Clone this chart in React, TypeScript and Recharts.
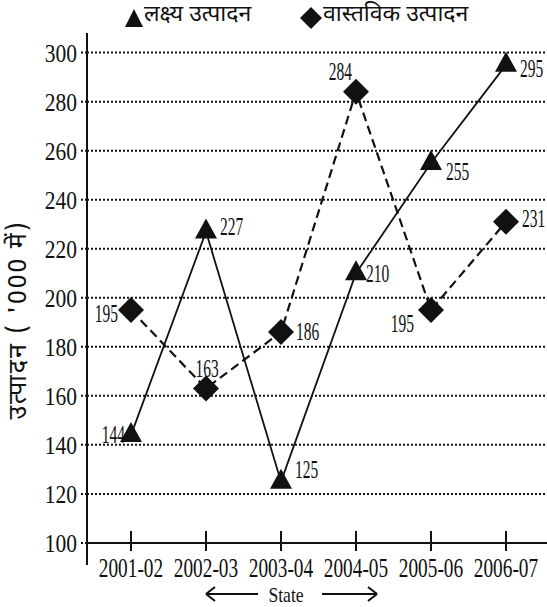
import { LineChart, Line, XAxis, YAxis, CartesianGrid, ReferenceLine, LabelList } from 'recharts';

// years on the x axis
const years = ['2001-02', '2002-03', '2003-04', '2004-05', '2005-06', '2006-07'];
// लक्ष्य उत्पादन (target)
const targetValues = [144, 227, 125, 210, 255, 295];
// वास्तविक उत्पादन (actual)
const actualValues = [195, 163, 186, 284, 195, 231];
const yTicks = [100, 120, 140, 160, 180, 200, 220, 240, 260, 280, 300];

// label placement per point: dx, dy, anchor
const targetLabelPos: [number, number, string][] = [
  [-6, 8, 'end'], [14, 3, 'start'], [14, -4, 'start'], [10, 9, 'start'], [15, 17, 'start'], [14, 12, 'start'],
];
const actualLabelPos: [number, number, string][] = [
  [-13, 12, 'end'], [1, -11, 'middle'], [15, 8, 'start'], [-4, -12, 'end'], [-17, 22, 'end'], [16, 5, 'start'],
];

const data = years.map((year, i) => ({
  year,
  target: targetValues[i],
  actual: actualValues[i],
}));

const hindi = '"Noto Sans Devanagari", "Lohit Devanagari", "Noto Sans", sans-serif';

// condensed serif text (scaled horizontally)
const SText = ({ x, y, anchor = 'start', size, sx, children }: any) => (
  <g transform={`translate(${x},${y}) scale(${sx},1)`}>
    <text x={0} y={0} textAnchor={anchor} fontFamily="Liberation Serif" fontSize={size} fill="#111">
      {children}
    </text>
  </g>
);

const Triangle = ({ cx, cy }: any) => (
  <polygon points={`${cx},${cy - 13} ${cx - 11},${cy + 7} ${cx + 11},${cy + 7}`} fill="#111" />
);

const Diamond = ({ cx, cy }: any) => (
  <polygon points={`${cx},${cy - 13} ${cx + 13},${cy} ${cx},${cy + 13} ${cx - 13},${cy}`} fill="#111" />
);

const makeLabel = (pos: [number, number, string][]) => (props: any) => {
  const { x, y, value, index } = props;
  const [dx, dy, anchor] = pos[index];
  return <SText x={x + dx} y={y + dy} anchor={anchor} size={25} sx={0.62}>{value}</SText>;
};

const XTick = ({ x, y, payload }: any) => (
  <g>
    <line x1={x} x2={x} y1={y - 34} y2={y - 14} stroke="#111" strokeWidth={2} />
    <SText x={x} y={y + 12} anchor="middle" size={28} sx={0.69}>{payload.value}</SText>
  </g>
);

const YTick = ({ x, y, payload }: any) => (
  <SText x={x - 2} y={y + 9} anchor="end" size={25} sx={0.86}>{payload.value}</SText>
);

const StateLabel = () => (
  <g>
    <path d="M206,594 L258,594 M206,594 L215,587 M206,594 L215,601" stroke="#111" strokeWidth={2} fill="none" />
    <SText x={286} y={602} anchor="middle" size={22} sx={0.8}>State</SText>
    <path d="M322,594 L377,594 M377,594 L368,587 M377,594 L368,601" stroke="#111" strokeWidth={2} fill="none" />
  </g>
);

const YLabel = () => (
  <text
    transform="translate(26,320) rotate(-90)"
    textAnchor="middle"
    style={{ fontFamily: hindi, fontSize: 25, letterSpacing: 2 }}
    fill="#111"
  >
    उत्पादन ( '000 में)
  </text>
);

const legendText = { position: 'absolute' as const, top: 0, fontFamily: hindi, fontSize: 23, color: '#111', whiteSpace: 'nowrap' as const };

export default function App() {
  return (
    <div style={{ position: 'relative', width: 547, height: 607, background: '#fff' }}>
      <style>{'body{margin:0}'}</style>
      <svg width={547} height={34} style={{ position: 'absolute', top: 0, left: 0, zIndex: 2 }}>
        <polygon points="134,9 125,27 143,27" fill="#111" />
        <polygon points="311,7 322,18 311,29 300,18" fill="#111" />
      </svg>
      <div style={{ ...legendText, left: 144, zIndex: 2 }}>लक्ष्य उत्पादन</div>
      <div style={{ ...legendText, left: 323, zIndex: 2 }}>वास्तविक उत्पादन</div>
      <LineChart width={547} height={607} data={data} margin={{ top: 33, right: 0, bottom: 0, left: 0 }}>
        <CartesianGrid
          vertical={false}
          horizontalValues={yTicks.slice(1)}
          stroke="#111"
          strokeWidth={2}
          strokeDasharray="2 2"
        />
        <XAxis
          dataKey="year"
          height={42}
          axisLine={false}
          tickLine={false}
          tickSize={0}
          tickMargin={0}
          padding={{ left: 44, right: 41 }}
          tick={<XTick />}
          interval={0}
          label={<StateLabel />}
        />
        <YAxis
          width={87}
          domain={[91, 308]}
          ticks={yTicks}
          allowDataOverflow
          axisLine={{ stroke: '#111', strokeWidth: 2 }}
          tickLine={{ stroke: '#111', strokeWidth: 2, strokeDasharray: '2 2' }}
          tickSize={6}
          tick={<YTick />}
          label={<YLabel />}
        />
        <ReferenceLine y={100} stroke="#111" strokeWidth={2} />
        <Line
          dataKey="target"
          stroke="#111"
          strokeWidth={1.8}
          dot={<Triangle />}
          activeDot={false}
          isAnimationActive={false}
        >
          <LabelList dataKey="target" content={makeLabel(targetLabelPos)} />
        </Line>
        <Line
          dataKey="actual"
          stroke="#111"
          strokeWidth={2.2}
          strokeDasharray="9 5"
          dot={<Diamond />}
          activeDot={false}
          isAnimationActive={false}
        >
          <LabelList dataKey="actual" content={makeLabel(actualLabelPos)} />
        </Line>
      </LineChart>
    </div>
  );
}
